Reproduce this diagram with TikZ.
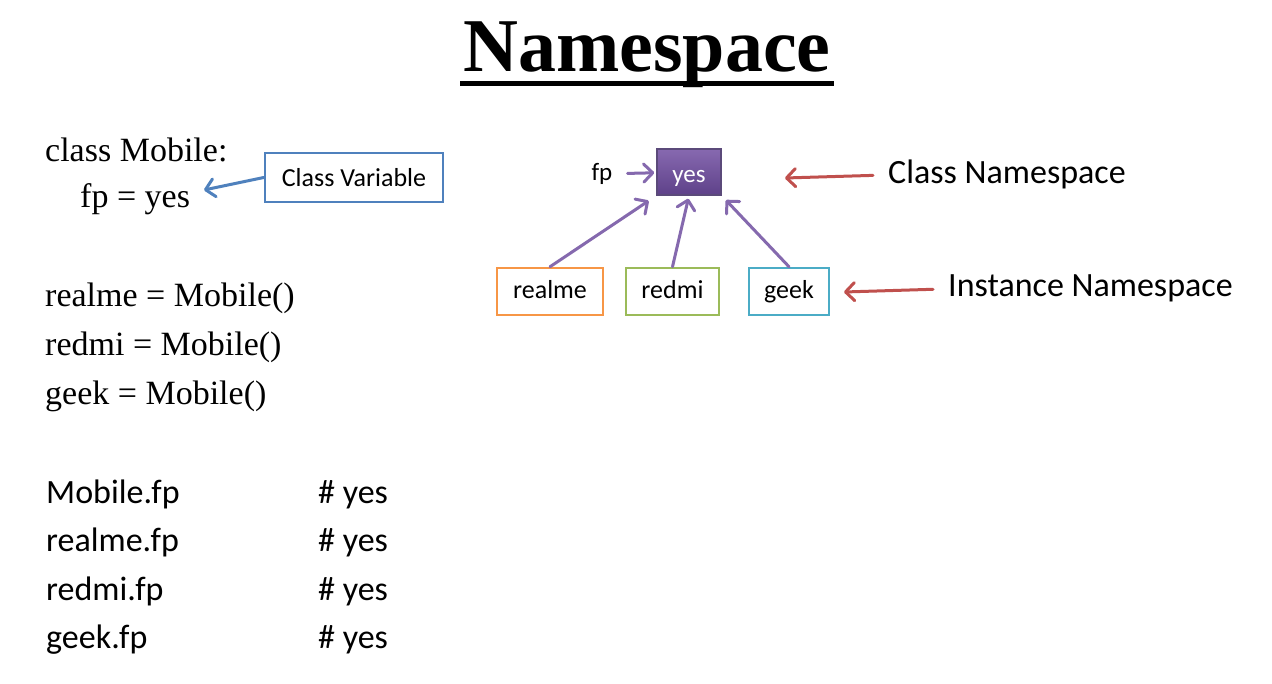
\documentclass[tikz,border=0pt]{standalone}
\usepackage{fontspec}
\setmainfont{Liberation Serif}
\newfontfamily\calibrifont{Carlito}
\usepackage{tikz}
\usetikzlibrary{positioning, arrows, arrows.meta}
\usetikzlibrary{matrix}
\definecolor{cvBlue}{HTML}{4F81BD}
\definecolor{realmeOrange}{HTML}{F79646}
\definecolor{redmiGreen}{HTML}{9BBB59}
\definecolor{geekBlue}{HTML}{4BACC6}
\definecolor{nsRed}{HTML}{C0504D}
\definecolor{arrowPurple}{HTML}{8569AE}
\definecolor{yesTop}{HTML}{8769B0}
\definecolor{yesBottom}{HTML}{5E4189}
\definecolor{yesBorder}{HTML}{5B4A7A}

\begin{document}
\begin{tikzpicture}[x=1pt,y=-1pt,
        codeline/.style={font=\fontsize{34}{40}\selectfont, anchor=base west, inner sep=0pt},
        calline/.style={font=\calibrifont\fontsize{34}{40}\selectfont, anchor=base west, inner sep=0pt},
        membox/.style={draw=#1, line width=2.5pt, fill=white, font=\calibrifont\fontsize{26}{30}\selectfont,
            minimum height=47pt, inner sep=0pt, text height=18pt, text depth=4pt},
        ptr/.style={-{Straight Barb[length=9pt, width=18pt, round]}, line width=3pt, line cap=round, draw=#1}]
        \fill[white] (0,0) rectangle (1272,684);
        \useasboundingbox (0,0) rectangle (1272,684);

        % title
        \node[font=\fontsize{76}{80}\selectfont\bfseries, anchor=base, inner sep=0pt] (title) at (647,72) {Namespace};
        \draw[line width=5pt] ([xshift=-3pt,yshift=-12pt]title.base west) -- ([xshift=3pt,yshift=-12pt]title.base east);

        % code on the left
        \node[codeline] (clsline) at (45,162) {class Mobile:};
        \node[codeline] (fpline) at (80,208) {fp = yes};
        \node[codeline] (realmeline) at (45,307) {realme = Mobile()};
        \node[codeline] (redmiline) at (45,356) {redmi = Mobile()};
        \node[codeline] (geekline) at (45,405) {geek = Mobile()};

        \node[membox=cvBlue, minimum width=178pt, minimum height=49pt, text depth=0pt] (cvbox) at (354,177.5) {Class Variable};
        \coordinate (cvtip) at (204,190);
        \draw[ptr=cvBlue] (cvbox.west) -- (cvtip);

        \matrix (fptable) [matrix of nodes, anchor=north west, inner sep=0pt, row sep=14.5pt, column sep=0pt,
            nodes={calline, text height=26pt, text depth=8pt},
            column 1/.style={nodes={text width=272pt, align=left}}] at (46,477)
        {%
            Mobile.fp & \# yes \\
            realme.fp & \# yes \\
            redmi.fp & \# yes \\
            geek.fp & \# yes \\
        };

        % namespaces
        \node[draw=yesBorder, line width=1.5pt, top color=yesTop, bottom color=yesBottom, text=white,
            font=\calibrifont\fontsize{25}{30}\selectfont, minimum width=64pt, minimum height=46pt, inner sep=0pt,
            text height=22pt, text depth=0pt] (yes) at (689,172) {yes};
        \node[font=\calibrifont\fontsize{25}{30}\selectfont, inner sep=0pt] (fp) at (602,174) {fp};
        \draw[ptr=arrowPurple, shorten <=15pt, shorten >=2pt] (fp) -- (yes);

        \node[membox=realmeOrange, minimum width=106pt] (realme) at (550,291.5) {realme};
        \node[membox=redmiGreen, minimum width=93pt, right=20.5pt of realme] (redmi) {redmi};
        \node[membox=geekBlue, minimum width=80pt, right=27.5pt of redmi] (geek) {geek};

        \draw[ptr=arrowPurple, shorten >=9pt] (realme.north) -- (yes.south west);
        \draw[ptr=arrowPurple, shorten >=3pt] (redmi.north) -- (yes.south);
        \draw[ptr=arrowPurple, shorten >=6pt] (geek.north) -- (yes.south east);

        \node[calline] (clsns) at (888,184) {Class Namespace};
        \coordinate (clstip) at (785,178);
        \draw[ptr=nsRed, shorten <=15pt] (clsns.west) -- (clstip);

        \node[calline] (instns) at (948,297) {Instance Namespace};
        \coordinate (insttip) at (844,292);
        \draw[ptr=nsRed, shorten <=15pt] (instns.west) -- (insttip);
    \end{tikzpicture}
\end{document}
